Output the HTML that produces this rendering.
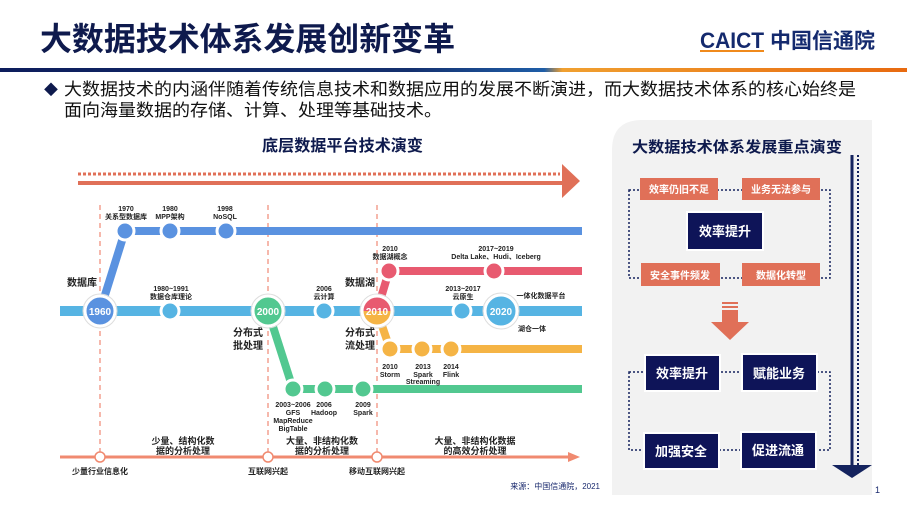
<!DOCTYPE html>
<html><head><meta charset="utf-8"><style>
body{margin:0;width:907px;height:510px;overflow:hidden;background:#fff;font-family:"Liberation Sans","Noto Sans CJK SC",sans-serif;}
svg{display:block}
</style></head><body>
<svg width="907" height="510" viewBox="0 0 907 510" xmlns="http://www.w3.org/2000/svg" font-family="Liberation Sans, Noto Sans CJK SC, sans-serif">
<defs>
<linearGradient id="g1" x1="0" x2="1"><stop offset="0" stop-color="#0d1d5c"/><stop offset="0.45" stop-color="#14306e"/><stop offset="0.6" stop-color="#1f5ea8"/><stop offset="0.62" stop-color="#f0a030"/><stop offset="1" stop-color="#e86a10"/></linearGradient>
</defs>
<text x="40" y="50" font-size="32" font-weight="bold" fill="#0e1a4d" textLength="415" lengthAdjust="spacingAndGlyphs">大数据技术体系发展创新变革</text>
<text x="700" y="48" font-size="22" font-weight="bold" fill="#142a6e" textLength="64" lengthAdjust="spacingAndGlyphs">CAICT</text>
<rect x="700" y="50" width="64" height="2" fill="#f08a1c"/>
<text x="770" y="48" font-size="21" font-weight="bold" fill="#142a6e">中国信通院</text>
<rect x="0" y="68" width="907" height="4" fill="url(#g1)"/>
<text x="44" y="95" font-size="14" fill="#0e1a4d">◆</text>
<text x="64" y="95" font-size="17" fill="#111" textLength="792" lengthAdjust="spacingAndGlyphs">大数据技术的内涵伴随着传统信息技术和数据应用的发展不断演进，而大数据技术体系的核心始终是</text>
<text x="64" y="116" font-size="17" fill="#111" textLength="378" lengthAdjust="spacingAndGlyphs">面向海量数据的存储、计算、处理等基础技术。</text>

<text x="262" y="151" font-size="16" font-weight="bold" fill="#0e1a4d" textLength="161" lengthAdjust="spacingAndGlyphs">底层数据平台技术演变</text>
<line x1="78" y1="174" x2="560" y2="174" stroke="#e07058" stroke-width="3" stroke-dasharray="3,2"/>
<line x1="78" y1="183" x2="565" y2="183" stroke="#e07058" stroke-width="4"/>
<polygon points="562,164 580,181 562,198" fill="#e07058"/>

<g stroke="#f4a090" stroke-width="1.5" stroke-dasharray="5,4">
<line x1="100" y1="205" x2="100" y2="455"/><line x1="268" y1="205" x2="268" y2="455"/><line x1="377" y1="205" x2="377" y2="455"/>
</g>
<g stroke-linecap="butt">
<line x1="125" y1="231" x2="582" y2="231" stroke="#5a92e0" stroke-width="8"/>
<line x1="100" y1="311" x2="125" y2="231" stroke="#5a92e0" stroke-width="8"/>
<line x1="389" y1="271" x2="582" y2="271" stroke="#e85a70" stroke-width="8"/>
<line x1="377" y1="311" x2="389" y2="271" stroke="#e85a70" stroke-width="8"/>
<line x1="390" y1="349" x2="582" y2="349" stroke="#f5b445" stroke-width="8"/>
<line x1="377" y1="311" x2="390" y2="349" stroke="#f5b445" stroke-width="8"/>
<line x1="293" y1="389" x2="582" y2="389" stroke="#52c890" stroke-width="8"/>
<line x1="268" y1="311" x2="293" y2="389" stroke="#52c890" stroke-width="8"/>
<line x1="60" y1="311" x2="582" y2="311" stroke="#56b4e3" stroke-width="10"/>
</g>
<g stroke="#fff" stroke-width="3">
<circle cx="125" cy="231" r="9" fill="#5a92e0"/><circle cx="170" cy="231" r="9" fill="#5a92e0"/><circle cx="226" cy="231" r="9" fill="#5a92e0"/>
<circle cx="170" cy="311" r="9" fill="#56b4e3"/><circle cx="324" cy="311" r="9" fill="#56b4e3"/><circle cx="462" cy="311" r="9" fill="#56b4e3"/>
<circle cx="389" cy="271" r="9" fill="#e85a70"/><circle cx="494" cy="271" r="9" fill="#e85a70"/>
<circle cx="390" cy="349" r="9" fill="#f5b445"/><circle cx="422" cy="349" r="9" fill="#f5b445"/><circle cx="451" cy="349" r="9" fill="#f5b445"/>
<circle cx="293" cy="389" r="9" fill="#52c890"/><circle cx="325" cy="389" r="9" fill="#52c890"/><circle cx="363" cy="389" r="9" fill="#52c890"/>
<circle cx="100" cy="311" r="15" fill="#5a92e0"/>
<circle cx="268" cy="311" r="15" fill="#52c890"/>
<circle cx="501" cy="311" r="16" fill="#56b4e3"/>
</g>
<g stroke="#ddd" stroke-width="1" fill="none"><circle cx="100" cy="311" r="17"/><circle cx="268" cy="311" r="17"/><circle cx="377" cy="311" r="17"/><circle cx="501" cy="311" r="18"/></g>
<path d="M362,311 a15,15 0 0 1 30,0 z" fill="#e85a70"/><path d="M362,311 a15,15 0 0 0 30,0 z" fill="#f5b445"/>
<circle cx="377" cy="311" r="15" fill="none" stroke="#fff" stroke-width="3"/>
<g font-size="10" font-weight="bold" fill="#fff" text-anchor="middle">
<text x="100" y="315">1960</text><text x="268" y="315">2000</text><text x="377" y="315">2010</text><text x="501" y="315">2020</text></g>
<g font-size="7" font-weight="bold" fill="#222" text-anchor="middle">
<text x="126" y="211">1970</text><text x="126" y="219">关系型数据库</text>
<text x="170" y="211">1980</text><text x="170" y="219">MPP架构</text>
<text x="225" y="211">1998</text><text x="225" y="219">NoSQL</text>
<text x="171" y="291">1980~1991</text><text x="171" y="299">数据仓库理论</text>
<text x="324" y="291">2006</text><text x="324" y="299">云计算</text>
<text x="390" y="251">2010</text><text x="390" y="259">数据湖概念</text>
<text x="496" y="251">2017~2019</text><text x="496" y="259">Delta Lake、Hudi、Iceberg</text>
<text x="463" y="291">2013~2017</text><text x="463" y="299">云原生</text>
<text x="541" y="298">一体化数据平台</text><text x="532" y="331">湖仓一体</text>
<text x="390" y="369">2010</text><text x="390" y="377">Storm</text>
<text x="423" y="369">2013</text><text x="423" y="377">Spark</text><text x="423" y="384">Streaming</text>
<text x="451" y="369">2014</text><text x="451" y="377">Flink</text>
<text x="293" y="407">2003~2006</text><text x="293" y="415">GFS</text><text x="293" y="423">MapReduce</text><text x="293" y="431">BigTable</text>
<text x="324" y="407">2006</text><text x="324" y="415">Hadoop</text>
<text x="363" y="407">2009</text><text x="363" y="415">Spark</text>
</g>
<g font-size="10" font-weight="bold" fill="#222">
<text x="67" y="286">数据库</text>
<text x="233" y="336">分布式</text><text x="233" y="349">批处理</text>
<text x="345" y="286">数据湖</text>
<text x="345" y="336">分布式</text><text x="345" y="349">流处理</text>
</g>
<g font-size="9" font-weight="bold" fill="#222" text-anchor="middle">
<text x="183" y="444">少量、结构化数</text><text x="183" y="454">据的分析处理</text>
<text x="322" y="444">大量、非结构化数</text><text x="322" y="454">据的分析处理</text>
<text x="475" y="444">大量、非结构化数据</text><text x="475" y="454">的高效分析处理</text>
</g>
<line x1="60" y1="457" x2="570" y2="457" stroke="#f08a70" stroke-width="3"/>
<polygon points="568,452 580,457 568,462" fill="#f08a70"/>
<g fill="#fff" stroke="#f08a70" stroke-width="1.5"><circle cx="100" cy="457" r="5"/><circle cx="268" cy="457" r="5"/><circle cx="377" cy="457" r="5"/></g>
<g font-size="8" font-weight="bold" fill="#222" text-anchor="middle">
<text x="100" y="474">少量行业信息化</text><text x="268" y="474">互联网兴起</text><text x="377" y="474">移动互联网兴起</text></g>
<text x="600" y="489" font-size="8" fill="#1a2a6e" text-anchor="end">来源：中国信通院，2021</text>

<path d="M642,120 H872 V495 H612 V150 Q612,120 642,120 Z" fill="#f2f2f2"/>
<text x="632" y="152" font-size="15" font-weight="bold" fill="#0e1a4d" textLength="210" lengthAdjust="spacingAndGlyphs">大数据技术体系发展重点演变</text>
<line x1="852" y1="155" x2="852" y2="468" stroke="#14235e" stroke-width="3"/>
<line x1="858" y1="155" x2="858" y2="465" stroke="#14235e" stroke-width="2" stroke-dasharray="2,2"/>
<polygon points="832,465 872,465 852,478" fill="#14235e"/>
<g fill="none" stroke="#14235e" stroke-width="1.5" stroke-dasharray="2,2">
<rect x="629" y="190" width="201" height="88"/>
<rect x="629" y="372" width="201" height="78"/>
</g>
<g fill="#e07058">
<rect x="640" y="178" width="78" height="22"/><rect x="742" y="178" width="78" height="22"/>
<rect x="641" y="263" width="79" height="23"/><rect x="742" y="263" width="78" height="23"/>
</g>
<g fill="#fff" font-size="10" font-weight="bold" text-anchor="middle">
<text x="679" y="193">效率仍旧不足</text><text x="781" y="193">业务无法参与</text>
<text x="680" y="279">安全事件频发</text><text x="781" y="279">数据化转型</text></g>
<rect x="687" y="212" width="76" height="38" fill="#0e1458" stroke="#fff" stroke-width="2"/>
<text x="725" y="236" font-size="13" font-weight="bold" fill="#fff" text-anchor="middle">效率提升</text>
<rect x="722" y="302" width="16" height="2" fill="#e07058"/><rect x="722" y="306" width="16" height="2" fill="#e07058"/>
<rect x="722" y="310" width="16" height="12" fill="#e07058"/>
<polygon points="711,322 749,322 730,340" fill="#e07058"/>
<g fill="#0e1458" stroke="#fff" stroke-width="2">
<rect x="645" y="355" width="75" height="36"/><rect x="742" y="354" width="75" height="37"/>
<rect x="644" y="433" width="75" height="36"/><rect x="741" y="432" width="75" height="37"/></g>
<g fill="#fff" font-size="13" font-weight="bold" text-anchor="middle">
<text x="682" y="378">效率提升</text><text x="779" y="378">赋能业务</text>
<text x="681" y="456">加强安全</text><text x="778" y="455">促进流通</text></g>
<text x="875" y="493" font-size="9" fill="#1a2a6e">1</text>
</svg>
</body></html>
